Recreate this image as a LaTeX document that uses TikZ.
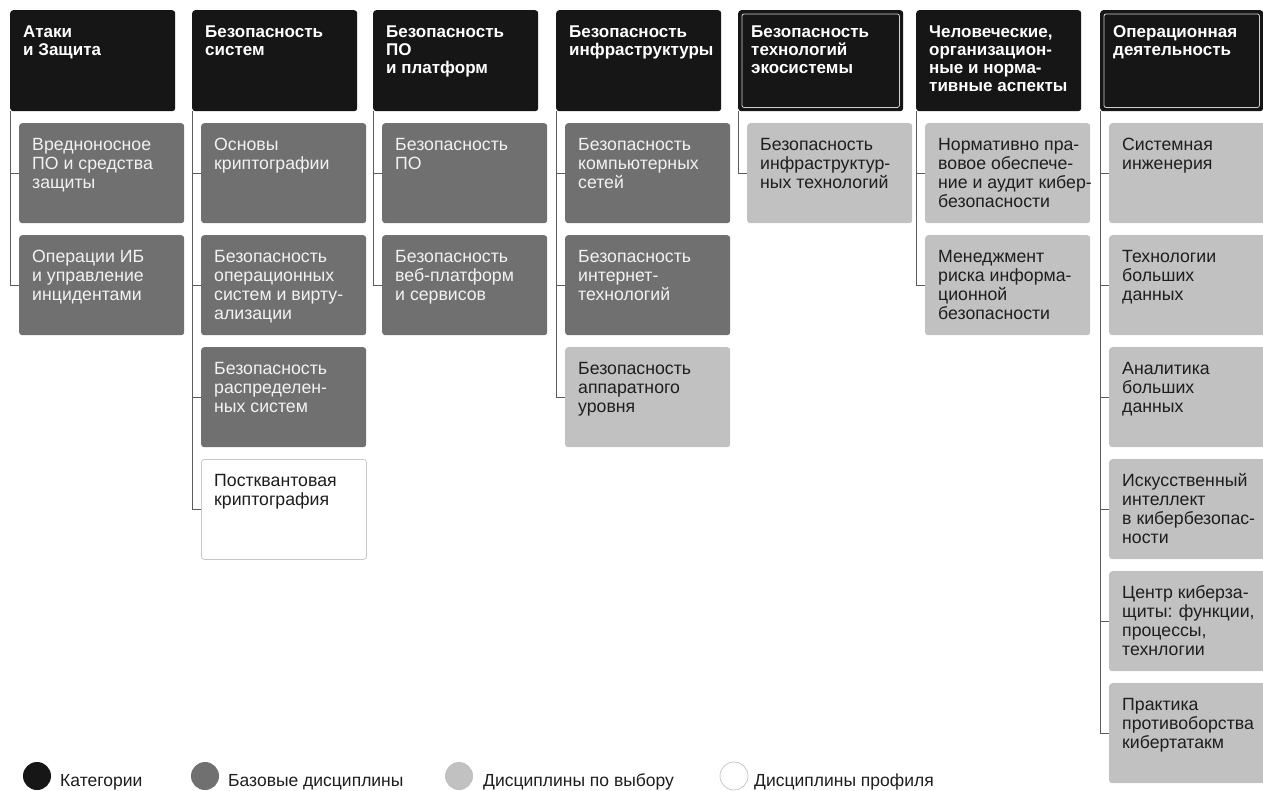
\documentclass[tikz,border=0pt]{standalone}
\usepackage{fontspec}
\setmainfont{Liberation Sans}
\definecolor{cblack}{HTML}{161616}
\definecolor{cdark}{HTML}{707070}
\definecolor{clight}{HTML}{C1C1C1}
\definecolor{cborder}{HTML}{C8C8C8}
\definecolor{cline}{HTML}{5C5C5C}
\definecolor{cinner}{HTML}{D0D0D0}
\definecolor{ctext}{HTML}{1E1E1E}
\definecolor{cwtext}{HTML}{F2F2F2}
\newcommand\mylines[1]{\begin{tabular}[t]{@{}l@{}}#1\end{tabular}}
\tikzset{
  boxbase/.style={rounded corners=3pt, minimum width=165pt, minimum height=100pt, inner sep=0pt, anchor=north west},
  hdr/.style={boxbase, fill=cblack, minimum height=101pt},
  dk/.style={boxbase, fill=cdark},
  lt/.style={boxbase, fill=clight},
  wh/.style={boxbase, fill=white, draw=cborder, line width=0.8pt},
  htxt/.style={anchor=base west, inner sep=0pt, text=white, font=\fontsize{17}{18}\selectfont\bfseries},
  dtxt/.style={anchor=base west, inner sep=0pt, text=cwtext, font=\fontsize{17.7}{19}\selectfont},
  ltxt/.style={anchor=base west, inner sep=0pt, text=ctext, font=\fontsize{17.7}{19}\selectfont},
  conn/.style={draw=cline, line width=1pt},
  innerframe/.style={draw=cinner, line width=0.8pt, rounded corners=2pt},
  legdot/.style={circle, minimum size=28pt, inner sep=0pt},
  legtxt/.style={anchor=base west, inner sep=0pt, text=ctext, font=\fontsize{17.5}{19}\selectfont},
}
% #1 name, #2 box style, #3 x, #4 y, #5 text style, #6 text
\newcommand\mybx[6]{%
  \node[#2] (#1) at (#3,#4) {};
  \node[#5] (#1t) at ([shift={(13,27)}]#1.north west) {\mylines{#6}};
}
\begin{document}
\begin{tikzpicture}[x=1pt,y=-1pt]
\useasboundingbox (0,0) rectangle (1263,790);
\fill[white] (0,0) rectangle (1263,790);

% ---------- column 1
\mybx{h1}{hdr}{10}{10}{htxt}{Атаки\\и Защита}
\mybx{c11}{dk}{19}{123}{dtxt}{Вредноносное\\ПО и средства\\защиты}
\mybx{c12}{dk}{19}{235}{dtxt}{Операции ИБ\\и управление\\инцидентами}
\draw[conn] (h1.south west |- c11.west) -- (c11.west);
\draw[conn] (h1.south west) |- (c12.west);

% ---------- column 2
\mybx{h2}{hdr}{192}{10}{htxt}{Безопасность\\систем}
\mybx{c21}{dk}{201}{123}{dtxt}{Основы\\криптографии}
\mybx{c22}{dk}{201}{235}{dtxt}{Безопасность\\операционных\\систем и вирту-\\ализации}
\mybx{c23}{dk}{201}{347}{dtxt}{Безопасность\\распределен-\\ных систем}
\mybx{c24}{wh}{201}{459}{ltxt}{Постквантовая\\криптография}
\draw[conn] (h2.south west |- c21.west) -- (c21.west);
\draw[conn] (h2.south west |- c22.west) -- (c22.west);
\draw[conn] (h2.south west |- c23.west) -- (c23.west);
\draw[conn] (h2.south west) |- (c24.west);

% ---------- column 3
\mybx{h3}{hdr}{373}{10}{htxt}{Безопасность\\ПО\\и платформ}
\mybx{c31}{dk}{382}{123}{dtxt}{Безопасность\\ПО}
\mybx{c32}{dk}{382}{235}{dtxt}{Безопасность\\веб-платформ\\и сервисов}
\draw[conn] (h3.south west |- c31.west) -- (c31.west);
\draw[conn] (h3.south west) |- (c32.west);

% ---------- column 4
\mybx{h4}{hdr}{556}{10}{htxt}{Безопасность\\инфраструктуры}
\mybx{c41}{dk}{565}{123}{dtxt}{Безопасность\\компьютерных\\сетей}
\mybx{c42}{dk}{565}{235}{dtxt}{Безопасность\\интернет-\\технологий}
\mybx{c43}{lt}{565}{347}{ltxt}{Безопасность\\аппаратного\\уровня}
\draw[conn] (h4.south west |- c41.west) -- (c41.west);
\draw[conn] (h4.south west |- c42.west) -- (c42.west);
\draw[conn] (h4.south west) |- (c43.west);

% ---------- column 5
\mybx{h5}{hdr}{738}{10}{htxt}{Безопасность\\технологий\\экосистемы}
\draw[innerframe] ([shift={(4,4)}]h5.north west) rectangle ([shift={(-4,-4)}]h5.south east);
\mybx{c51}{lt}{747}{123}{ltxt}{Безопасность\\инфраструктур-\\ных технологий}
\draw[conn] (h5.south west) |- (c51.west);

% ---------- column 6
\mybx{h6}{hdr}{916}{10}{htxt}{Человеческие,\\организацион-\\ные и норма-\\тивные аспекты}
\mybx{c61}{lt}{925}{123}{ltxt}{Нормативно пра-\\вовое обеспече-\\ние и аудит кибер-\\безопасности}
\mybx{c62}{lt}{925}{235}{ltxt}{Менеджмент\\риска информа-\\ционной\\безопасности}
\draw[conn] (h6.south west |- c61.west) -- (c61.west);
\draw[conn] (h6.south west) |- (c62.west);

% ---------- column 7
\mybx{h7}{hdr,minimum width=163pt}{1100}{10}{htxt}{Операционная\\деятельность}
\draw[innerframe] ([shift={(4,4)}]h7.north west) rectangle ([shift={(-4,-4)}]h7.south east);
\mybx{c71}{lt}{1109}{123}{ltxt}{Системная\\инженерия}
\mybx{c72}{lt}{1109}{235}{ltxt}{Технологии\\больших\\данных}
\mybx{c73}{lt}{1109}{347}{ltxt}{Аналитика\\больших\\данных}
\mybx{c74}{lt}{1109}{459}{ltxt}{Искусственный\\интеллект\\в кибербезопас-\\ности}
\mybx{c75}{lt}{1109}{571}{ltxt}{Центр киберза-\\щиты: функции,\\процессы,\\технлогии}
\mybx{c76}{lt}{1109}{683}{ltxt}{Практика\\противоборства\\кибертатакм}
\draw[conn] (h7.south west |- c71.west) -- (c71.west);
\draw[conn] (h7.south west |- c72.west) -- (c72.west);
\draw[conn] (h7.south west |- c73.west) -- (c73.west);
\draw[conn] (h7.south west |- c74.west) -- (c74.west);
\draw[conn] (h7.south west |- c75.west) -- (c75.west);
\draw[conn] (h7.south west) |- (c76.west);

% ---------- legend
\node[legdot, fill=cblack] (l1) at (37,776) {};
\node[legtxt] (l1t) at (60,786) {Категории};
\node[legdot, fill=cdark] (l2) at (205,776) {};
\node[legtxt] (l2t) at (228,786) {Базовые дисциплины};
\node[legdot, fill=clight] (l3) at (459,776) {};
\node[legtxt] (l3t) at (483,786) {Дисциплины по выбору};
\node[legdot, fill=white, draw=cborder, line width=0.8pt] (l4) at (734,776) {};
\node[legtxt] (l4t) at (754,786) {Дисциплины профиля};
\end{tikzpicture}
\end{document}
